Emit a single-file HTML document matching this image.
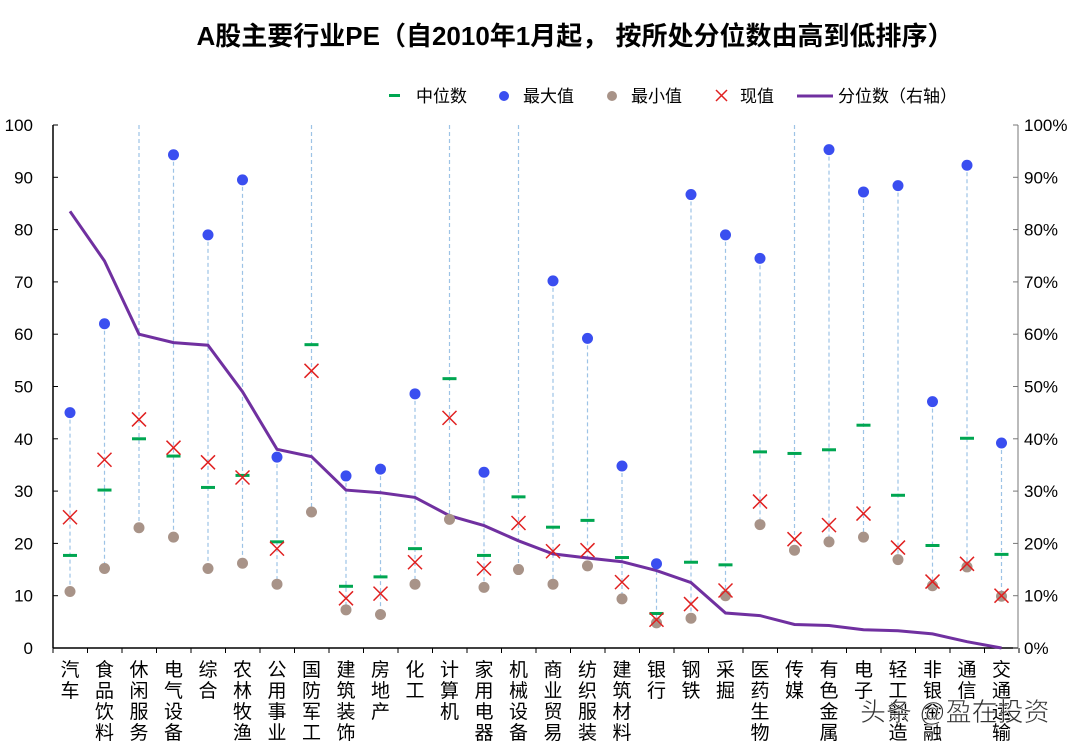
<!DOCTYPE html>
<html><head><meta charset="utf-8"><style>
body{margin:0;background:#fff;width:1080px;height:746px;overflow:hidden}
svg{display:block;font-family:"Liberation Sans","Noto Sans CJK SC",sans-serif}
</style></head><body>
<svg id="c" width="1080" height="746" viewBox="0 0 1080 746" xmlns="http://www.w3.org/2000/svg"></svg>
<script>
var d=[
["汽车",45,17.7,10.8,25,83.5],["食品饮料",62,30.2,15.2,36,74],["休闲服务",null,40,23,43.7,60],
["电气设备",94.3,36.7,21.2,38.3,58.4],["综合",79,30.7,15.2,35.5,57.9],["农林牧渔",89.5,33,16.2,32.6,49],
["公用事业",36.5,20.3,12.2,19,38],["国防军工",null,58,26,53,36.6],["建筑装饰",32.9,11.8,7.3,9.5,30.2],
["房地产",34.2,13.6,6.4,10.4,29.7],["化工",48.6,19,12.2,16.4,28.8],["计算机",null,51.5,24.6,44,25.3],
["家用电器",33.6,17.7,11.6,15.2,23.4],["机械设备",null,28.9,15,23.9,20.5],["商业贸易",70.2,23.1,12.2,18.5,18],
["纺织服装",59.2,24.4,15.7,18.7,17.2],["建筑材料",34.8,17.3,9.4,12.6,16.5],["银行",16.1,6.6,4.8,5.4,14.8],
["钢铁",86.7,16.4,5.7,8.4,12.5],["采掘",79,15.9,10,11,6.7],["医药生物",74.5,37.5,23.6,28,6.2],
["传媒",null,37.2,18.7,20.8,4.5],["有色金属",95.3,37.9,20.3,23.5,4.3],["电子",87.2,42.6,21.2,25.7,3.5],
["轻工制造",88.4,29.2,16.9,19.2,3.3],["非银金融",47.1,19.6,11.9,12.7,2.7],["通信",92.3,40.1,15.5,16.1,1.2],
["交通运输",39.2,17.9,9.9,10,0]];
var L=53,R=1018,Y0=648,Y1=125,sp=34.5,x0=70;
function Y(v){return Y0-(Y0-Y1)*v/100}
var s='';
s+='<text x="575" y="45" text-anchor="middle" font-size="26" font-weight="bold">A股主要行业PE（自2010年1月起， 按所处分位数由高到低排序）</text>';
s+='<rect x="389" y="94" width="11" height="3" fill="#00a651"/><text x="416" y="102" font-size="17">中位数</text>';
s+='<circle cx="504" cy="96" r="5" fill="#3a4ef0"/><text x="523" y="102" font-size="17">最大值</text>';
s+='<circle cx="612" cy="96" r="5" fill="#a89388"/><text x="631" y="102" font-size="17">最小值</text>';
s+='<path d="M716 90l11 11M727 90l-11 11" stroke="#e02020" stroke-width="1.5"/><text x="740" y="102" font-size="17">现值</text>';
s+='<line x1="797" y1="96" x2="833" y2="96" stroke="#7030a0" stroke-width="3"/><text x="838" y="102" font-size="17">分位数（右轴）</text>';
s+='<line x1="'+L+'" y1="'+Y1+'" x2="'+L+'" y2="'+Y0+'" stroke="#000" stroke-width="1.5"/>';
s+='<line x1="'+R+'" y1="'+Y1+'" x2="'+R+'" y2="'+Y0+'" stroke="#777" stroke-width="1"/>';
s+='<line x1="'+L+'" y1="'+Y0+'" x2="'+R+'" y2="'+Y0+'" stroke="#000" stroke-width="1.5"/>';
for(var i=0;i<=10;i++){var y=Y(i*10);
s+='<line x1="'+L+'" y1="'+y+'" x2="'+(L+5)+'" y2="'+y+'" stroke="#000"/>';
s+='<line x1="'+(R-5)+'" y1="'+y+'" x2="'+R+'" y2="'+y+'" stroke="#777"/>';
s+='<text x="'+(L-20)+'" y="'+(y+6)+'" font-size="17" text-anchor="end">'+(i*10)+'</text>';
s+='<text x="'+(R+6)+'" y="'+(y+6)+'" font-size="17">'+(i*10)+'%</text>';}
for(var i=0;i<=28;i++){var x=L+i*sp;s+='<line x1="'+x+'" y1="'+Y0+'" x2="'+x+'" y2="'+(Y0+5)+'" stroke="#000"/>';}
var pts=[];
d.forEach(function(r,i){var x=x0+i*sp;
 var top=r[1]==null?100:r[1];
 s+='<line x1="'+x+'" y1="'+Y(top)+'" x2="'+x+'" y2="'+Y(r[3])+'" stroke="#9dc3e6" stroke-width="1.2" stroke-dasharray="4,3"/>';
 pts.push(x+','+Y(r[5]).toFixed(1));
});
s+='<polyline points="'+pts.join(' ')+'" fill="none" stroke="#7030a0" stroke-width="3"/>';
d.forEach(function(r,i){var x=x0+i*sp;
 if(r[1]!=null)s+='<circle cx="'+x+'" cy="'+Y(r[1])+'" r="5.5" fill="#3a4ef0"/>';
 s+='<circle cx="'+x+'" cy="'+Y(r[3])+'" r="5.5" fill="#a89388"/>';
 s+='<rect x="'+(x-7)+'" y="'+(Y(r[2])-1.5)+'" width="14" height="3" fill="#00a651"/>';
 var y=Y(r[4]);s+='<path d="M'+(x-7)+' '+(y-7)+'l14 14M'+(x+7)+' '+(y-7)+'l-14 14" stroke="#e02020" stroke-width="1.5"/>';
 var ch=r[0].split('');ch.forEach(function(c,j){s+='<text x="'+x+'" y="'+(676+j*21)+'" font-size="19" text-anchor="middle">'+c+'</text>';});
});
s+='<text x="860" y="721" font-size="26" fill="#333" stroke="#fff" stroke-width="0.6">头条 @盈在投资</text>';
document.getElementById('c').innerHTML=s;
</script>
</body></html>
